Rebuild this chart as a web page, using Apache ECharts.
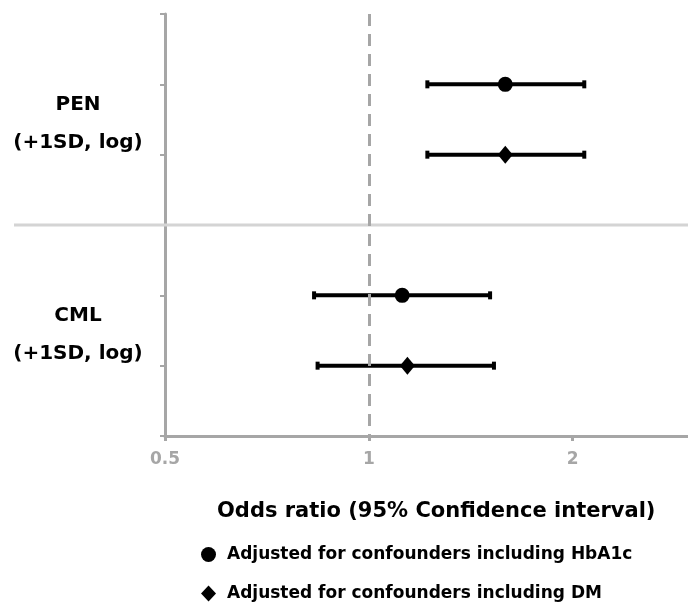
<!DOCTYPE html>
<html>
<head>
<meta charset="utf-8">
<script src="https://cdn.jsdelivr.net/npm/echarts@6/dist/echarts.min.js"></script>
<style>html,body{margin:0;padding:0;background:#fff}#c{width:688px;height:604px}</style>
</head>
<body>
<div id="c"></div>
<script>
// ---- data ----
var groups = ['PEN', 'CML'];
var groupSub = '(+1SD, log)';
var groupRows = [1.5, 4.5];
var seriesNames = ['Adjusted for confounders including HbA1c', 'Adjusted for confounders including DM'];
var rows = [1, 2, 4, 5]; // PEN-HbA1c, PEN-DM, CML-HbA1c, CML-DM
var orValues = [1.59, 1.59, 1.12, 1.14];
var ciLow = [1.22, 1.22, 0.83, 0.84];
var ciHigh = [2.08, 2.08, 1.51, 1.53];
var seriesOfRow = [0, 1, 0, 1];
var tickLabels = [0.5, 1, 2];
var refValue = 1;
var separatorRow = 3;

var ciData = rows.map(function (r, i) { return [ciLow[i], ciHigh[i], r]; });
var pts = [[], []];
rows.forEach(function (r, i) { pts[seriesOfRow[i]].push([orValues[i], r]); });

var gray = '#a6a6a6';
var FF = 'DejaVu Sans';
var chart = echarts.init(document.getElementById('c'));
chart.setOption({
  animation: false,
  backgroundColor: '#fff',
  grid: { left: 165, right: -4, top: 14, bottom: 168, containLabel: false, outerBoundsMode: 'none' },
  title: {
    text: 'Odds ratio (95% Confidence interval)',
    left: 212, top: 496,
    textStyle: { fontFamily: FF, fontWeight: 'bold', fontSize: 21, color: '#000' }
  },
  legend: [
    {
      left: 196, top: 541, itemWidth: 15, itemHeight: 15,
      data: [seriesNames[0]],
      textStyle: { fontFamily: FF, fontWeight: 'bold', fontSize: 17, color: '#000', padding: [0, 0, 0, 6] }
    },
    {
      left: 196, top: 580, itemWidth: 15, itemHeight: 16,
      data: [seriesNames[1]],
      textStyle: { fontFamily: FF, fontWeight: 'bold', fontSize: 17, color: '#000', padding: [0, 0, 0, 6] }
    }
  ],
  xAxis: {
    type: 'log', logBase: 2, min: 0.5, max: 3,
    axisLine: { onZero: false, lineStyle: { color: gray, width: 3 } },
    axisTick: { show: true, length: 5, lineStyle: { color: gray, width: 3 } },
    splitLine: { show: false },
    axisLabel: {
      margin: 15, color: gray, fontWeight: 'bold', fontSize: 17, fontFamily: FF,
      formatter: function (v) { return tickLabels.some(function (t) { return Math.abs(t - v) < 1e-6; }) ? String(v) : ''; }
    }
  },
  yAxis: {
    type: 'value', min: 0, max: 6, interval: 1, inverse: true,
    axisLine: { show: true, onZero: false, lineStyle: { color: gray, width: 3 } },
    axisTick: { show: true, length: 5, lineStyle: { color: gray, width: 2 } },
    axisLabel: { show: false },
    splitLine: { show: false }
  },
  series: [
    {
      type: 'custom', name: 'sep', silent: true, clip: false,
      data: [[refValue, separatorRow]],
      renderItem: function (params, api) {
        var p = api.coord([api.value(0), api.value(1)]);
        return { type: 'line', shape: { x1: 14, y1: p[1], x2: 688, y2: p[1] }, style: { stroke: '#d4d4d4', lineWidth: 3 } };
      },
      z: 1
    },
    {
      type: 'scatter', name: 'ref', symbolSize: 0, data: [],
      markLine: {
        silent: true, symbol: 'none', label: { show: false },
        lineStyle: { color: gray, type: [12, 8], width: 3, opacity: 1 },
        data: [{ xAxis: refValue }]
      },
      z: 2
    },
    {
      type: 'custom', name: 'ci', silent: true,
      data: ciData,
      encode: { x: [0, 1], y: 2 },
      renderItem: function (params, api) {
        var a = api.coord([api.value(0), api.value(2)]);
        var b = api.coord([api.value(1), api.value(2)]);
        var st = { stroke: '#000', lineWidth: 4 };
        return {
          type: 'group', children: [
            { type: 'line', shape: { x1: a[0], y1: a[1], x2: b[0], y2: b[1] }, style: st },
            { type: 'line', shape: { x1: a[0], y1: a[1] - 4, x2: a[0], y2: a[1] + 4 }, style: st },
            { type: 'line', shape: { x1: b[0], y1: b[1] - 4, x2: b[0], y2: b[1] + 4 }, style: st }
          ]
        };
      },
      z: 3
    },
    {
      type: 'scatter', name: seriesNames[0], symbol: 'circle', symbolSize: 15,
      itemStyle: { color: '#000', opacity: 1 }, data: pts[0], z: 4
    },
    {
      type: 'scatter', name: seriesNames[1], symbol: 'diamond', symbolSize: [15, 18],
      itemStyle: { color: '#000', opacity: 1 }, data: pts[1], z: 4
    },
    {
      type: 'scatter', name: 'groups', symbolSize: 0, silent: true,
      itemStyle: { opacity: 1 },
      data: groups.map(function (g, i) { return { value: [tickLabels[0], groupRows[i]], name: g }; }),
      label: {
        show: true, position: [-87, 4], align: 'center', verticalAlign: 'middle',
        formatter: function (p) { return p.name + '\n' + groupSub; },
        fontFamily: FF, fontWeight: 'bold', fontSize: 20, color: '#000', lineHeight: 38, opacity: 1
      },
      z: 5
    }
  ]
});
</script>
</body>
</html>
